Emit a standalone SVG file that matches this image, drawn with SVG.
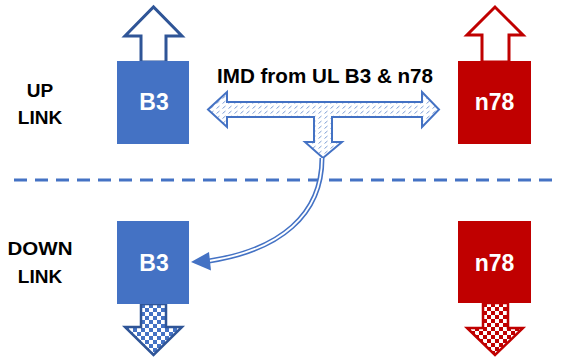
<svg xmlns="http://www.w3.org/2000/svg" width="563" height="358" viewBox="0 0 563 358">
<defs>
<pattern id="hatch" width="6" height="5" patternUnits="userSpaceOnUse">
<rect width="6" height="5" fill="#ffffff"/>
<line x1="0.5" y1="3.5" x2="3.5" y2="1" stroke="#7F9FD6" stroke-width="1"/>
</pattern>
<pattern id="checkB" width="8" height="8" patternUnits="userSpaceOnUse" x="141" y="304">
<rect width="8" height="8" fill="#ffffff"/>
<rect width="4" height="4" fill="#4472C4"/>
<rect x="4" y="4" width="4" height="4" fill="#4472C4"/>
</pattern>
<pattern id="checkR" width="8" height="8" patternUnits="userSpaceOnUse" x="483" y="303">
<rect width="8" height="8" fill="#ffffff"/>
<rect width="4" height="4" fill="#C00000"/>
<rect x="4" y="4" width="4" height="4" fill="#C00000"/>
</pattern>
</defs>
<style>
.lbl{font-family:"Liberation Sans",Arial,sans-serif;font-weight:bold;font-size:19px;fill:#000;text-anchor:middle}
.box{font-family:"Liberation Sans",Arial,sans-serif;font-weight:bold;font-size:23px;fill:#fff;text-anchor:middle}
.blue{fill:#4472C4}
.red{fill:#C00000}
.upB{fill:#fff;stroke:#2F5597;stroke-width:3;stroke-linejoin:miter}
.upR{fill:#fff;stroke:#C00000;stroke-width:3;stroke-linejoin:miter}
.dnB{fill:url(#checkB);stroke:#2F5597;stroke-width:2.5}
.dnR{fill:url(#checkR);stroke:#C00000;stroke-width:2.5}
</style>
<rect width="563" height="358" fill="#ffffff"/>
<g id="labels">
<text class="lbl" x="40" y="97">UP</text>
<text class="lbl" x="40" y="124">LINK</text>
<text class="lbl" x="40" y="255" textLength="65" lengthAdjust="spacingAndGlyphs">DOWN</text>
<text class="lbl" x="40" y="283">LINK</text>
</g>
<g id="ul-b3">
<polygon class="upB" points="141,62 141,36 125,36 153.5,7 182,36 166,36 166,62"/>
<rect class="blue" x="117" y="61" width="72" height="83"/>
<text class="box" x="154" y="110">B3</text>
</g>
<g id="ul-n78">
<polygon class="upR" points="482,62 482,35 467,35 495,7 523,35 509,35 509,62"/>
<rect class="red" x="458" y="61" width="73" height="83"/>
<text class="box" x="494.5" y="110">n78</text>
</g>
<g id="dl-b3">
<polygon class="dnB" points="141,304 141,327 125,327 153.5,355 182,327 166,327 166,304"/>
<rect class="blue" x="117" y="221" width="72" height="83"/>
<text class="box" x="154" y="271">B3</text>
</g>
<g id="dl-n78">
<polygon class="dnR" points="483,303 483,328 467,328 495,355 523,328 508,328 508,303"/>
<rect class="red" x="458" y="221" width="73" height="82"/>
<text class="box" x="494.5" y="271">n78</text>
</g>
<g id="imd">
<text x="325" y="83" font-family="'Liberation Sans',Arial,sans-serif" font-weight="bold" font-size="20" text-anchor="middle" textLength="216" lengthAdjust="spacingAndGlyphs">IMD from UL B3 &amp; n78</text>
<polygon fill="url(#hatch)" stroke="#4472C4" stroke-width="2" stroke-linejoin="miter" points="208,109.5 227,92 227,102 422,102 422,92 439,109.5 422,127 422,117 332,117 332,142 342,142 323,158 305,142 314,142 314,117 227,117 227,127"/>
</g>
<g id="connectors">
<line x1="14" y1="180" x2="556" y2="180" stroke="#4472C4" stroke-width="3" stroke-dasharray="13 8"/>
<path d="M322 158 C322 215 280 250 209 261" fill="none" stroke="#4472C4" stroke-width="5"/>
<path d="M322 158 C322 215 280 250 209 261" fill="none" stroke="#ffffff" stroke-width="1.8"/>
<polygon fill="#4472C4" points="191,262 209,252 211,270.5"/>
</g>
</svg>
